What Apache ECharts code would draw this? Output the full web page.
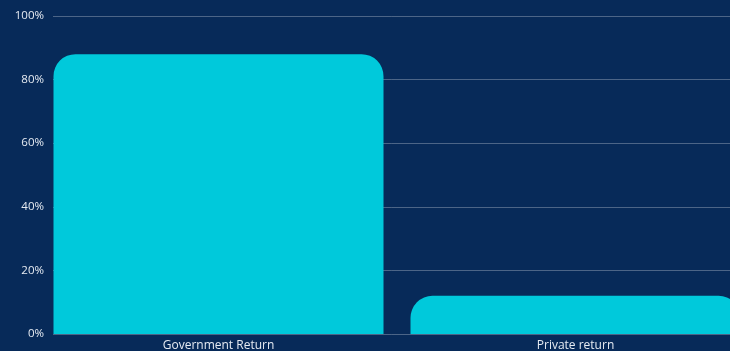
<!DOCTYPE html>
<html>
<head>
<meta charset="utf-8">
<script src="https://cdn.jsdelivr.net/npm/echarts@6/dist/echarts.min.js"></script>
<style>
  html, body { margin: 0; padding: 0; background: #072a59; }
  #main { width: 730px; height: 351px; }
</style>
</head>
<body>
<div id="main"></div>
<script>
var categories = ['Government Return', 'Private return'];
var returnValues = [88, 12];
var yTicks = [0, 20, 40, 60, 80, 100];

var chartDom = document.getElementById('main');
var myChart = echarts.init(chartDom);

var option = {
    backgroundColor: '#072a59',
    textStyle: { fontFamily: 'Open Sans' },
    grid: [
        // grid lines + y labels
        { left: 53, right: 0, top: 16, bottom: 17, outerBoundsMode: 'none' },
        // bars (runs past the right edge, like the original)
        { left: 40, width: 714, top: 16, bottom: 17, outerBoundsMode: 'none' }
    ],
    xAxis: [
        { gridIndex: 0, type: 'value', show: false, min: 0, max: 1 },
        {
            gridIndex: 1,
            type: 'category',
            data: categories,
            axisLine: { show: false },
            axisTick: { show: false },
            axisLabel: { color: '#e6ebf2', fontSize: 12, fontWeight: 500, margin: 6 }
        }
    ],
    yAxis: [
        {
            gridIndex: 0,
            type: 'value',
            min: yTicks[0],
            max: yTicks[yTicks.length - 1],
            interval: 20,
            axisLine: { show: false },
            axisTick: { show: false },
            axisLabel: { color: '#e6ebf2', fontSize: 11.5, fontWeight: 500, margin: 9, formatter: '{value}%' },
            splitLine: { lineStyle: { color: 'rgba(255,255,255,0.28)', width: 1 } }
        },
        {
            gridIndex: 1,
            type: 'value',
            min: 0,
            max: 100,
            show: false
        }
    ],
    series: [
        {
            type: 'bar',
            xAxisIndex: 1,
            yAxisIndex: 1,
            data: returnValues,
            barWidth: 330,
            itemStyle: { color: '#00c9db', borderRadius: [22, 22, 0, 0] }
        }
    ]
};

myChart.setOption(option);
</script>
</body>
</html>
